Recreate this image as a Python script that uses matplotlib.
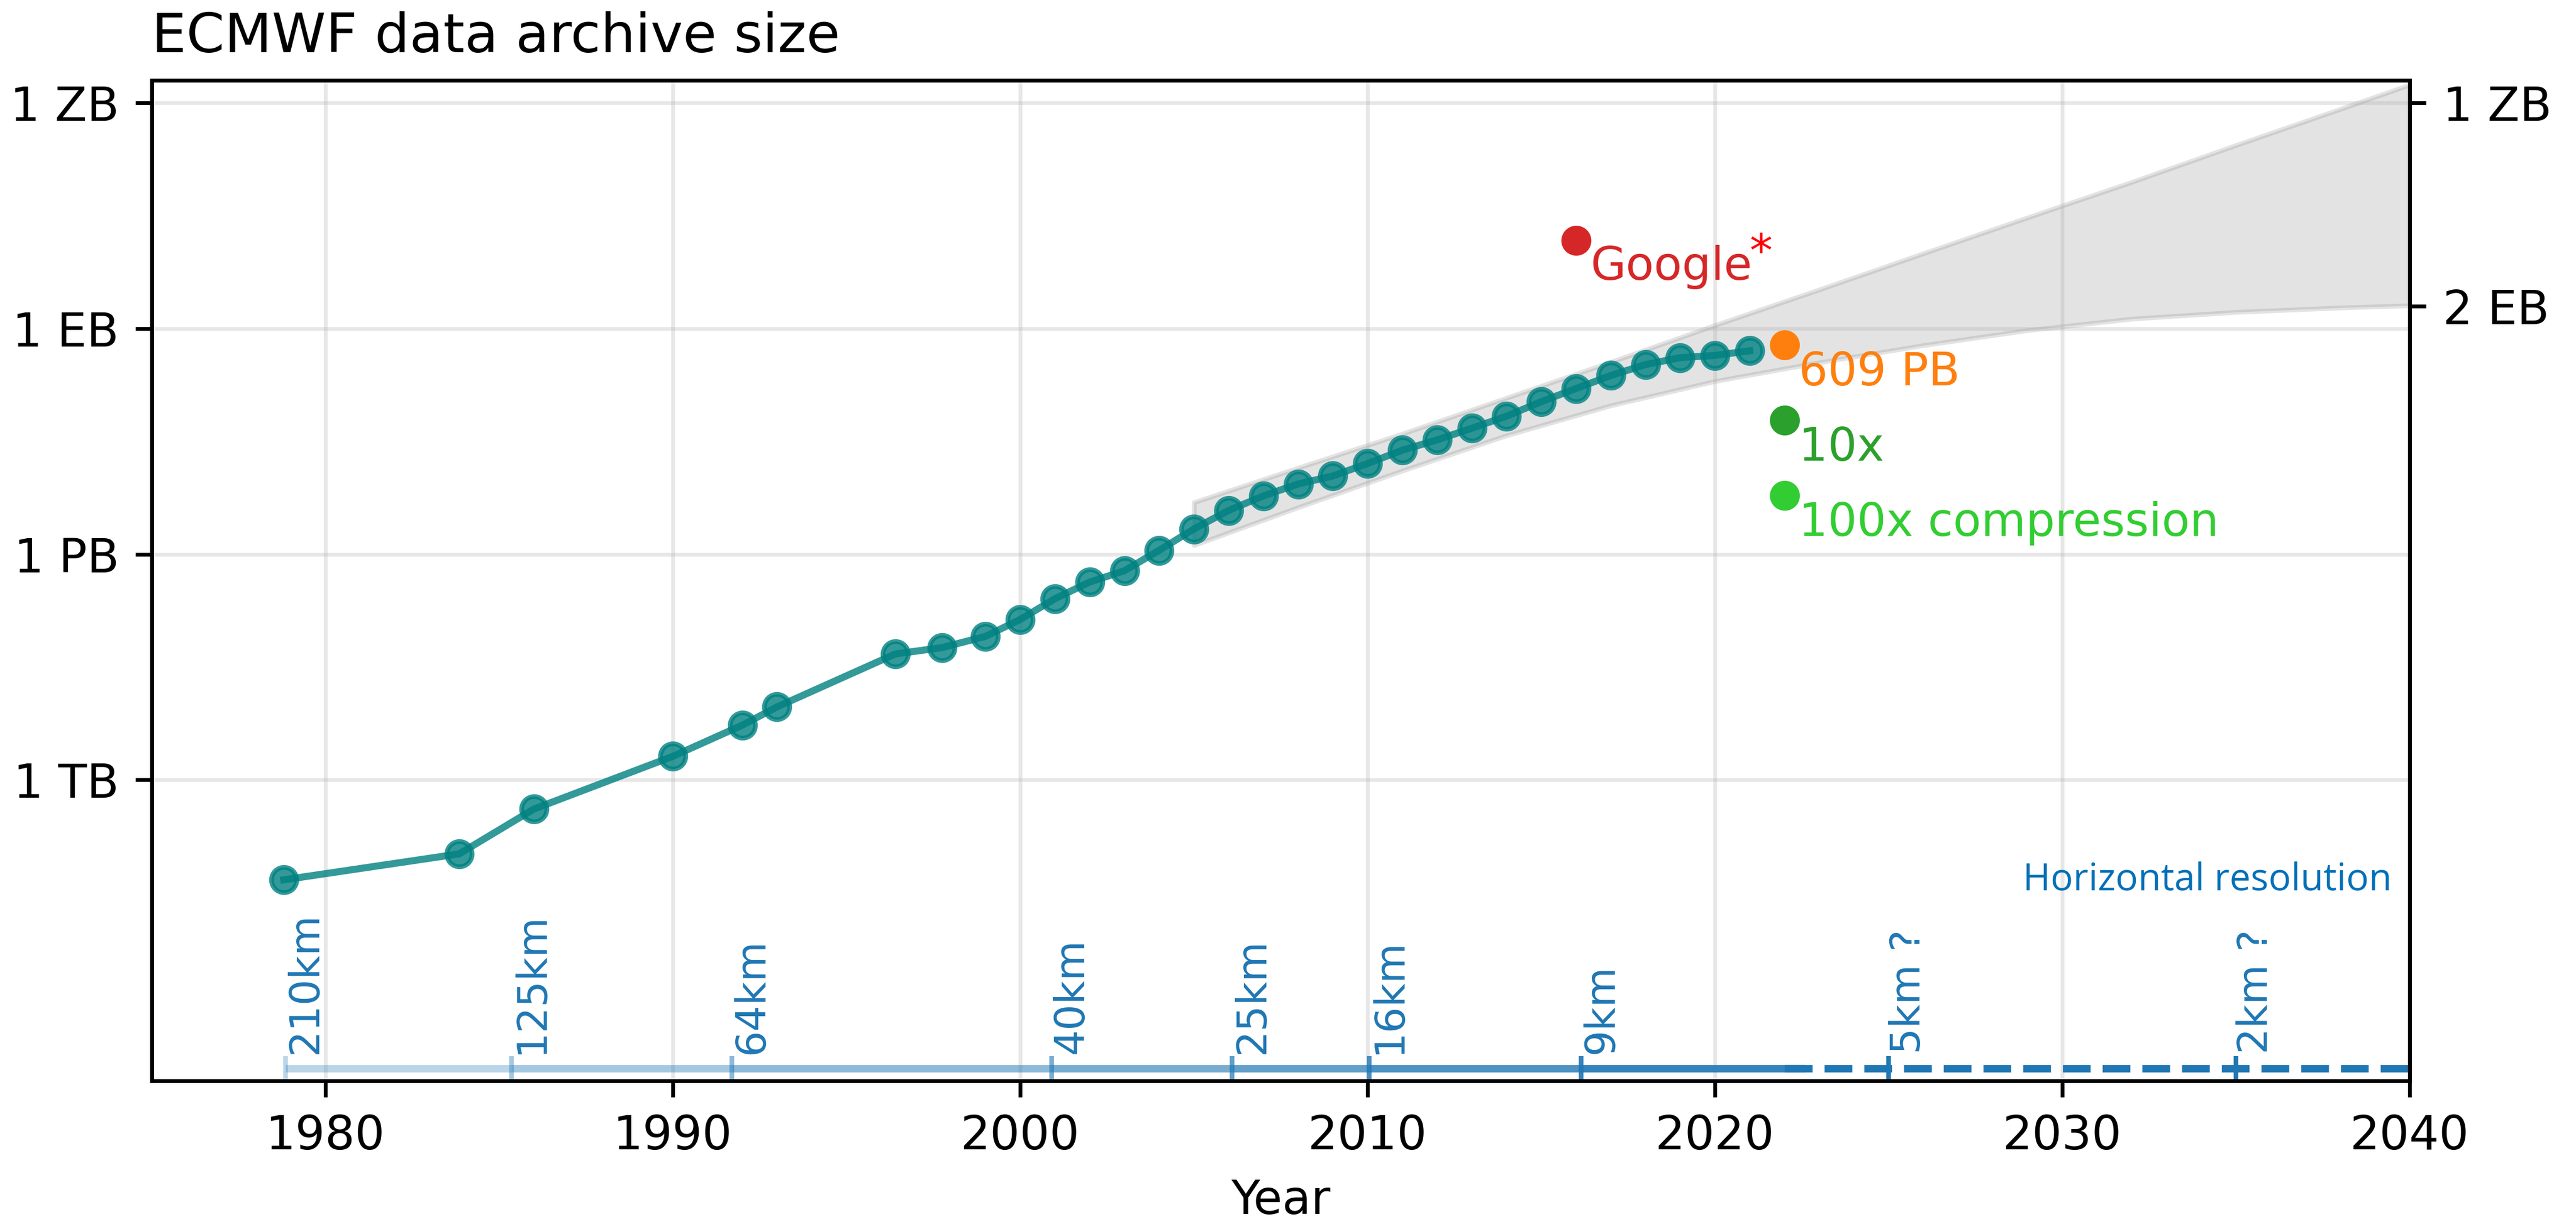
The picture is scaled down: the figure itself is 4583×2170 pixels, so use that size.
import matplotlib.pyplot as plt
import matplotlib.transforms as mtransforms
from matplotlib.ticker import NullLocator

# ECMWF archive size (bytes)
years = [1978.8, 1983.85, 1986, 1990, 1992, 1993, 1996.4, 1997.75, 1999, 2000,
         2001, 2002, 2003, 2004, 2005, 2006, 2007, 2008, 2009, 2010,
         2011, 2012, 2013, 2014, 2015, 2016, 2017, 2018, 2019, 2020, 2021]
archive_bytes = [4.7e10, 1.04e11, 4.1e11, 2.06e12, 5.35e12, 9.35e12, 4.72e13, 5.75e13, 8.1e13, 1.36e14,
                 2.57e14, 4.27e14, 6.05e14, 1.13e15, 2.17e15, 3.83e15, 5.98e15, 8.61e15, 1.1e16, 1.61e16,
                 2.42e16, 3.32e16, 4.74e16, 6.86e16, 1.07e17, 1.6e17, 2.38e17, 3.33e17, 4.12e17, 4.4e17, 5.08e17]

# single points
now_year = 2022
now_bytes = 609e15
google_year = 2016
google_bytes = 15e18

# projection envelope
proj_years = [2005, 2008, 2011, 2014, 2017, 2020, 2023, 2026, 2029, 2032, 2035, 2038, 2040]
proj_upper = [4.9e15, 1.41e16, 4.0e16, 1.2e17, 3.6e17, 1.11e18, 3.3e18, 1.0e19, 3.0e19,
              8.9e19, 2.75e20, 8.3e20, 1.75e21]
proj_lower = [1.32e15, 4.2e15, 1.29e16, 3.8e16, 9.5e16, 2.0e17, 3.55e17, 6.0e17, 9.5e17,
              1.35e18, 1.66e18, 1.9e18, 2.03e18]

# horizontal resolution history
res_years = [1978.85, 1985.35, 1991.7, 2000.9, 2006.1, 2010.05, 2016.15]
res_labels = ['210km', '125km', '64km', '40km', '25km', '16km', '9km']
res_alpha = [0.3, 0.4, 0.5, 0.6, 0.7, 0.8, 0.9]
res_end = 2022.6
future_years = [2025, 2035]
future_labels = ['5km ?', '2km ?']

fig = plt.figure(figsize=(7.6384, 3.6167), dpi=600)
ax = fig.add_axes([0.0589, 0.11336, 0.8766, 0.82074])

ax.fill_between(proj_years, proj_lower, proj_upper, color='grey', alpha=0.22)

ax.plot(years, archive_bytes, 'o-', color='teal', alpha=0.8, markersize=5.4)
ax.plot([now_year], [now_bytes], 'o', color='tab:orange', markersize=5.4)
ax.plot([now_year], [now_bytes / 10], 'o', color='tab:green', markersize=5.4)
ax.plot([now_year], [now_bytes / 100], 'o', color='limegreen', markersize=5.4)
ax.plot([google_year], [google_bytes], 'o', color='tab:red', markersize=5.4)

lab = dict(textcoords='offset points', ha='left', va='top', fontsize=9.8)
ax.annotate('609 PB', (now_year, now_bytes), xytext=(3, -1.2), color='tab:orange', **lab)
ax.annotate('10x', (now_year, now_bytes / 10), xytext=(3, -1.2), color='tab:green', **lab)
ax.annotate('100x compression', (now_year, now_bytes / 100), xytext=(3, -1.2),
            color='limegreen', **lab)
g = ax.annotate('Google', (google_year, google_bytes), xytext=(3, -1), color='tab:red', **lab)
ax.annotate('*', (1, 1), xycoords=g, xytext=(-0.5, 2.8), textcoords='offset points',
            ha='left', va='top', fontsize=9.8, color='red')

# resolution bar along the bottom of the axes
trans = mtransforms.blended_transform_factory(ax.transData, ax.transAxes)
bar_y = 0.0124
txt_y = 0.027
ends = res_years[1:] + [res_end]
for x0, x1, a, txt in zip(res_years, ends, res_alpha, res_labels):
    ax.plot([x0, x1], [bar_y, bar_y], color='tab:blue', alpha=a, lw=1.6,
            solid_capstyle='butt', transform=trans)
    ax.plot([x0], [bar_y], marker='|', markersize=5.2, mew=1, color='tab:blue',
            alpha=a, transform=trans)
    ax.text(x0, txt_y, txt, rotation=90, ha='left', va='bottom', fontsize=8.75,
            color='tab:blue', transform=trans)
ax.plot([2022, 2040], [bar_y, bar_y], '--', color='tab:blue', lw=1.6, transform=trans)
for x0, txt in zip(future_years, future_labels):
    ax.plot([x0], [bar_y], marker='|', markersize=5.2, mew=1, color='tab:blue',
            transform=trans)
    ax.text(x0, txt_y, txt, rotation=90, ha='left', va='bottom', fontsize=8.75,
            color='tab:blue', transform=trans)
ax.text(0.992, 0.1898, 'Horizontal resolution', transform=ax.transAxes, ha='right',
        va='baseline', fontsize=8, family='Open Sans', color='#0070b8')

ax.set_yscale('log')
ax.set_xlim(1975, 2040)
ax.set_ylim(1e8, 2e21)
ax.set_yticks([1e12, 1e15, 1e18, 1e21])
ax.set_yticklabels(['1 TB', '1 PB', '1 EB', '1 ZB'])
ax.yaxis.set_minor_locator(NullLocator())
ax.grid(alpha=0.3)
ax.set_xlabel('Year')
ax.set_title('ECMWF data archive size', loc='left', fontsize=11.7)

ax2 = ax.twinx()
ax2.set_yscale('log')
ax2.set_ylim(ax.get_ylim())
ax2.set_yticks([1e21, 2e18])
ax2.set_yticklabels(['1 ZB', '2 EB'])
ax2.yaxis.set_minor_locator(NullLocator())

fig.savefig('out.png', dpi=600)
